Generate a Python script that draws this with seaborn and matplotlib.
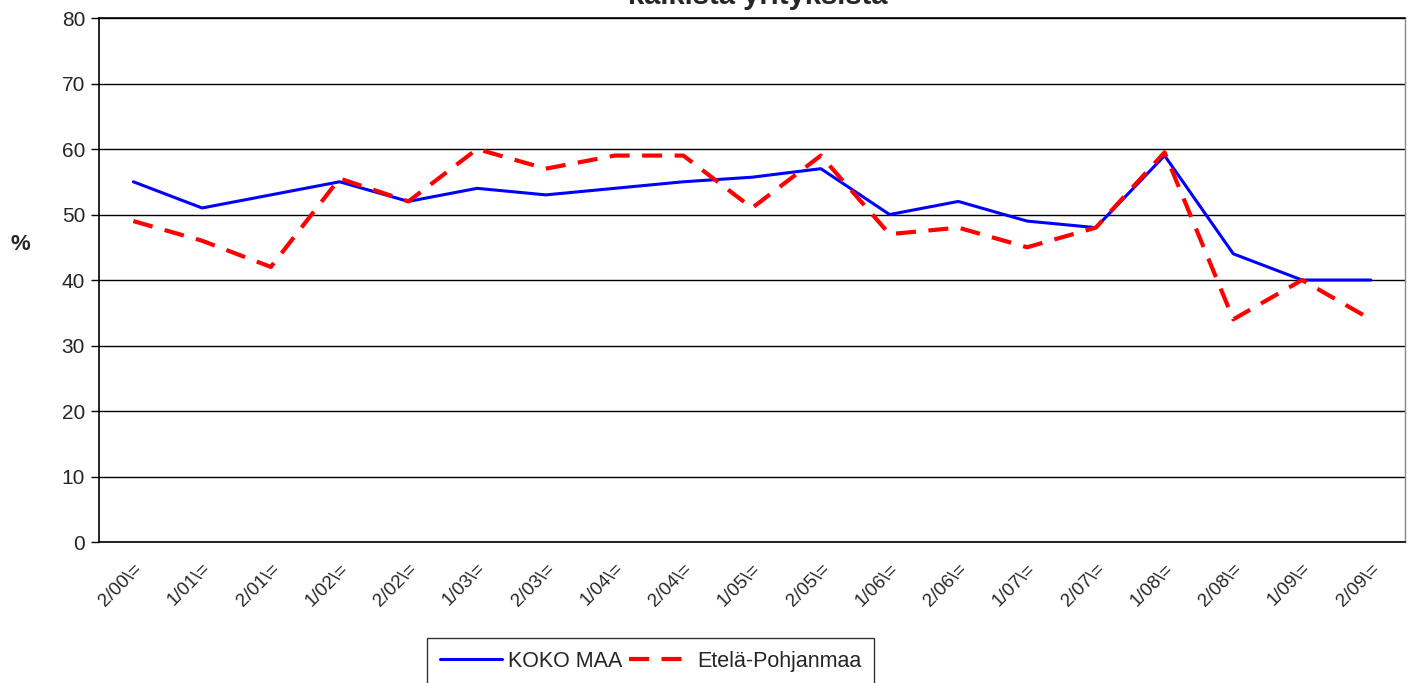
import numpy as np
import pandas as pd
import seaborn as sns
import matplotlib.pyplot as plt
import matplotlib.transforms as mtransforms

periods = ['2/00\\=', '1/01\\=', '2/01\\=', '1/02\\=', '2/02\\=', '1/03\\=', '2/03\\=',
           '1/04\\=', '2/04\\=', '1/05\\=', '2/05\\=', '1/06\\=', '2/06\\=', '1/07\\=',
           '2/07\\=', '1/08\\=', '2/08\\=', '1/09\\=', '2/09\\=']
koko_maa = [55, 51, 53, 55, 52, 54, 53, 54, 55, 55.7, 57, 50, 52, 49, 48, 59, 44, 40, 40]
etela_pohjanmaa = [49, 46, 42, 55.5, 52, 60, 57, 59, 59, 51, 59, 47, 48, 45, 48, 59.5, 34, 40, 34]

sns.set_theme(style='white')
plt.rcParams['font.family'] = ['Liberation Sans', 'DejaVu Sans']

df = pd.DataFrame({'pos': np.arange(len(periods)), 'KOKO MAA': koko_maa,
                   'Etelä-Pohjanmaa': etela_pohjanmaa})

fig = plt.figure(figsize=(14.08, 6.83), dpi=100)
ax = fig.add_axes([0.0703, 0.2064, 0.9277, 0.7672])

sns.lineplot(data=df, x='pos', y='KOKO MAA', color='#0000ff', linewidth=2.2,
             ax=ax, label='KOKO MAA')
sns.lineplot(data=df, x='pos', y='Etelä-Pohjanmaa', color='#ff0000', linewidth=3,
             ax=ax, label='Etelä-Pohjanmaa')
ax.lines[1].set_dashes([4.8, 3.0])

ax.set_ylim(0, 80)
ax.set_xlim(-0.5, len(periods) - 0.5)
ax.set_yticks(np.arange(0, 81, 10))
ax.yaxis.grid(True, color='black', linewidth=1)
ax.set_axisbelow(True)

ax.set_xticks(np.arange(len(periods)))
ax.set_xticklabels(periods, rotation=45, ha='right', rotation_mode='anchor', fontsize=13.5)
shift = mtransforms.ScaledTranslation(-9 / 100, 0, fig.dpi_scale_trans)
for lbl in ax.get_xticklabels():
    lbl.set_transform(lbl.get_transform() + shift)
ax.set_xticks(np.arange(-0.5, len(periods)), minor=True)
ax.tick_params(axis='x', which='major', length=0, pad=13)
ax.tick_params(axis='x', which='minor', length=6, width=1, color='black', direction='out')
ax.tick_params(axis='y', length=6, width=1, color='black', direction='out', labelsize=15,
               pad=4)
ax.tick_params(bottom=True, left=True)

for side in ['left', 'bottom', 'top']:
    ax.spines[side].set_color('black')
    ax.spines[side].set_linewidth(1.2)
ax.spines['right'].set_color('#888888')
ax.spines['right'].set_linewidth(1)

ax.set_xlabel('')
ax.set_ylabel('%', rotation=0, fontsize=16, fontweight='bold', va='center', ha='center')
ax.yaxis.set_label_coords(-0.0605, 0.567)

fig.text(0.538, 0.9942, 'kaikista yrityksistä', ha='center', va='baseline', fontsize=21,
         fontweight='bold')

leg = ax.legend(loc='upper left', bbox_to_anchor=(0.2511, -0.183), ncol=2, frameon=True,
                fancybox=False, edgecolor='black', fontsize=15.5, handlelength=2.9,
                handletextpad=0.27, columnspacing=0.3, borderaxespad=0, borderpad=0.6)
leg.get_frame().set_linewidth(1)

fig.savefig('out.png', dpi=100)
